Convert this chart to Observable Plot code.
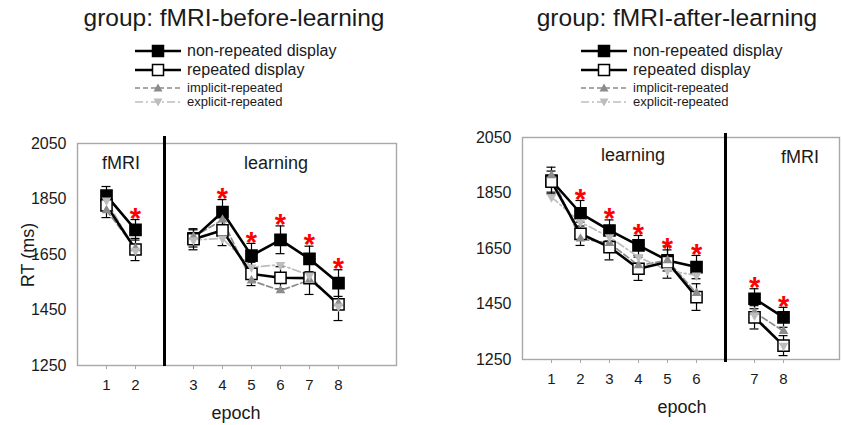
<!DOCTYPE html>
<html>
<head>
<meta charset="utf-8">
<script src="https://cdn.jsdelivr.net/npm/d3@7"></script>
<script src="https://cdn.jsdelivr.net/npm/@observablehq/plot@0.6"></script>
<style>
  body { margin: 0; background: #fff; font-family: "Liberation Sans", Arial, sans-serif; color: #1a1a1a; }
  #root { position: relative; width: 843px; height: 425px; overflow: hidden; background: #fff; }
  .title { position: absolute; top: 6px; font-size: 24.5px; line-height: 1; white-space: nowrap; transform: translateX(-50%); }
  .row { position: absolute; height: 16px; display: flex; align-items: center; white-space: nowrap; line-height: 16px; }
  .row svg { display: block; margin-right: 6px; }
  .panel { position: absolute; top: 110px; }
  .lab { position: absolute; font-size: 18px; line-height: 1; white-space: nowrap; }
</style>
</head>
<body>
<div id="root"></div>
<script>
// ---------- data ----------
const epochs = [1, 2, 3, 4, 5, 6, 7, 8];

// group: fMRI-before-learning (epochs 1-2 fMRI, 3-8 learning)
const beforeNonRepeated   = [1862, 1739, 1708, 1803, 1646, 1703, 1634, 1547];
const beforeNonRepeatedSE = [33, 37, 31, 45, 44, 50, 46, 48];
const beforeRepeated      = [1827, 1668, 1705, 1737, 1580, 1566, 1565, 1470];
const beforeRepeatedSE    = [44, 40, 38, 55, 42, 40, 59, 58];
const beforeImplicit      = [1809, 1672, 1714, 1775, 1556, 1520, 1558, 1474];
const beforeExplicit      = [1845, 1664, 1702, 1708, 1604, 1613, 1575, 1463];
const beforeSignificant   = [2, 4, 5, 6, 7, 8];

// group: fMRI-after-learning (epochs 1-6 learning, 7-8 fMRI)
const afterNonRepeated    = [1895, 1777, 1715, 1661, 1607, 1583, 1469, 1402];
const afterNonRepeatedSE  = [48, 46, 38, 36, 38, 42, 36, 36];
const afterRepeated       = [1891, 1703, 1655, 1577, 1601, 1475, 1402, 1300];
const afterRepeatedSE     = [38, 42, 46, 42, 58, 48, 42, 36];
const afterImplicit       = [1913, 1685, 1669, 1589, 1607, 1489, 1420, 1352];
const afterExplicit       = [1835, 1745, 1691, 1619, 1571, 1553, 1409, 1300];
const afterSignificant    = [2, 3, 4, 5, 6, 7, 8];

const yTicks = [1250, 1450, 1650, 1850, 2050];
const seriesNames = ["non-repeated display", "repeated display", "implicit-repeated", "explicit-repeated"];

// ---------- helpers ----------
const root = document.getElementById("root");
const C_IMPL = "#8c8c8c", C_EXPL = "#bdbdbd", C_FRAME = "#a8a8a8";

function el(tag, cls, css, text) {
  const e = document.createElement(tag);
  if (cls) e.className = cls;
  Object.assign(e.style, css || {});
  if (text != null) e.textContent = text;
  root.appendChild(e);
  return e;
}

function swatch(kind) {
  const ns = "http://www.w3.org/2000/svg";
  const s = document.createElementNS(ns, "svg");
  s.setAttribute("width", 46); s.setAttribute("height", 16);
  let inner = "";
  if (kind === 0 || kind === 1) {
    inner = `<line x1="0" x2="46" y1="8" y2="8" stroke="#000" stroke-width="2.6"/>
             <rect x="17.5" y="2.5" width="11" height="11" fill="${kind === 0 ? "#000" : "#fff"}" stroke="#000" stroke-width="1.5"/>`;
  } else if (kind === 2) {
    inner = `<line x1="0" x2="46" y1="8" y2="8" stroke="${C_IMPL}" stroke-width="1.6" stroke-dasharray="5,3"/>
             <path d="M23,3.5 L27.5,11.5 L18.5,11.5Z" fill="${C_IMPL}"/>`;
  } else {
    inner = `<line x1="0" x2="46" y1="8" y2="8" stroke="${C_EXPL}" stroke-width="1.6" stroke-dasharray="8,3,2,3"/>
             <path d="M23,12.5 L27.5,4.5 L18.5,4.5Z" fill="${C_EXPL}"/>`;
  }
  s.innerHTML = inner;
  return s;
}

function legend(left) {
  const rowsY = [50.7, 70, 88.3, 101.7];
  seriesNames.forEach((name, i) => {
    const r = el("div", "row", {left: left + "px", top: (rowsY[i] - 8) + "px", fontSize: (i < 2 ? 16 : 13) + "px"});
    r.appendChild(swatch(i));
    const t = document.createElement("span");
    t.textContent = name;
    r.appendChild(t);
  });
}

function panel(cfg) {
  const pos = e => (e > cfg.splitAfter ? e + 1 : e);
  const seg = e => (e > cfg.splitAfter ? "b" : "a");
  const mk = (vals, se, series) => epochs.map((e, i) => ({epoch: e, pos: pos(e), seg: seg(e), v: vals[i], se: se ? se[i] : 0, series}));
  const nonRep = mk(cfg.nonRep, cfg.nonRepSE, "non");
  const rep = mk(cfg.rep, cfg.repSE, "rep");
  const impl = mk(cfg.impl, null, "impl");
  const expl = mk(cfg.expl, null, "expl");
  const bars = nonRep.concat(rep);
  const caps = bars.flatMap(d => [{pos: d.pos, y: d.v - d.se}, {pos: d.pos, y: d.v + d.se}]);
  const stars = nonRep.filter(d => cfg.sig.includes(d.epoch));
  const positions = epochs.map(pos);
  const dividerPos = cfg.splitAfter + 1;
  const segA = epochs.filter(e => e <= cfg.splitAfter).map(pos);
  const segB = epochs.filter(e => e > cfg.splitAfter).map(pos);
  const mid = a => d3.mean(a);

  const chart = Plot.plot({
    width: cfg.width, height: 315,
    marginLeft: cfg.marginLeft, marginRight: cfg.marginRight,
    marginTop: cfg.marginTop, marginBottom: cfg.marginBottom,
    style: {fontFamily: '"Liberation Sans", Arial, sans-serif', color: "#1a1a1a", background: "transparent", overflow: "visible"},
    x: {domain: [0, cfg.xMax]},
    y: {domain: [1250, 2050]},
    marks: [
      Plot.frame({stroke: C_FRAME, strokeWidth: 1.4}),
      Plot.axisY({ticks: yTicks, tickFormat: d => String(d), tickSize: 0, tickPadding: 11, fontSize: 16, label: null, fill: "#1a1a1a"}),
      Plot.axisX({ticks: positions, tickFormat: p => epochs[positions.indexOf(p)], tickSize: 4, tickPadding: 10, fontSize: 15, label: null, stroke: C_FRAME, fill: "#1a1a1a"}),
      Plot.ruleX([dividerPos], {stroke: "#000", strokeWidth: 3, insetTop: cfg.divTop, insetBottom: cfg.divBottom}),
      Plot.text([cfg.labelA], {x: () => mid(segA), frameAnchor: "top", dy: cfg.labelDyA, dx: cfg.labelDxA, text: d => d, fontSize: 18, fill: "#1a1a1a"}),
      Plot.text([cfg.labelB], {x: () => mid(segB), frameAnchor: "top", dy: cfg.labelDyB, dx: cfg.labelDxB, text: d => d, fontSize: 18, fill: "#1a1a1a"}),
      // error bars
      Plot.ruleX(bars, {x: "pos", y1: d => d.v - d.se, y2: d => d.v + d.se, stroke: "#000", strokeWidth: 1.2}),
      Plot.ruleY(caps, {y: "y", x1: "pos", x2: "pos", insetLeft: -4.5, insetRight: -4.5, stroke: "#000", strokeWidth: 1.2}),
      // lines
      Plot.line(impl, {x: "pos", y: "v", z: "seg", stroke: C_IMPL, strokeWidth: 1.7, strokeDasharray: "6,3"}),
      Plot.line(expl, {x: "pos", y: "v", z: "seg", stroke: C_EXPL, strokeWidth: 1.7, strokeDasharray: "8,3,2,3"}),
      Plot.line(nonRep, {x: "pos", y: "v", z: "seg", stroke: "#000", strokeWidth: 2.6}),
      Plot.line(rep, {x: "pos", y: "v", z: "seg", stroke: "#000", strokeWidth: 2.6}),
      // markers
      Plot.dot(nonRep, {x: "pos", y: "v", symbol: "square", r: 6.3, fill: "#000", stroke: "#000", strokeWidth: 1.5}),
      Plot.dot(rep, {x: "pos", y: "v", symbol: "square", r: 6.3, fill: "#fff", stroke: "#000", strokeWidth: 1.5}),
      Plot.dot(impl, {x: "pos", y: "v", symbol: "triangle", r: 3.6, fill: C_IMPL, stroke: "none"}),
      Plot.dot(expl, {x: "pos", y: "v", symbol: "triangle", rotate: 180, r: 3.6, fill: C_EXPL, stroke: "none"}),
      // significance stars
      Plot.text(stars, {x: "pos", y: d => d.v + d.se, text: () => "*", fontSize: 29, fontWeight: "bold", fill: "#ff0000", dy: -1})
    ]
  });
  chart.classList.add("panel");
  chart.style.left = cfg.left + "px";
  root.appendChild(chart);
}

// ---------- left group ----------
el("div", "title", {left: "234px"}, "group: fMRI-before-learning");
legend(135);
panel({
  left: 0, width: 420, marginLeft: 77, marginRight: 24, marginTop: 33, marginBottom: 60, xMax: 11,
  splitAfter: 2, divTop: -7, divBottom: -1,
  nonRep: beforeNonRepeated, nonRepSE: beforeNonRepeatedSE, rep: beforeRepeated, repSE: beforeRepeatedSE,
  impl: beforeImplicit, expl: beforeExplicit, sig: beforeSignificant,
  labelA: "fMRI", labelDyA: 13, labelDxA: 0, labelB: "learning", labelDyB: 13, labelDxB: 10
});
el("div", "lab", {left: "28px", top: "255px", transform: "translate(-50%,-50%) rotate(-90deg)"}, "RT (ms)");
el("div", "lab", {left: "236px", top: "413px", transform: "translate(-50%,-50%)"}, "epoch");

// ---------- right group ----------
el("div", "title", {left: "677px"}, "group: fMRI-after-learning");
legend(581);
panel({
  left: 440, width: 403, marginLeft: 82, marginRight: 4, marginTop: 27, marginBottom: 66, xMax: 10.93,
  splitAfter: 6, divTop: -4, divBottom: -3,
  nonRep: afterNonRepeated, nonRepSE: afterNonRepeatedSE, rep: afterRepeated, repSE: afterRepeatedSE,
  impl: afterImplicit, expl: afterExplicit, sig: afterSignificant,
  labelA: "learning", labelDyA: 11, labelDxA: 9, labelB: "fMRI", labelDyB: 13, labelDxB: 31
});
el("div", "lab", {left: "682px", top: "407px", transform: "translate(-50%,-50%)"}, "epoch");
</script>
</body>
</html>
